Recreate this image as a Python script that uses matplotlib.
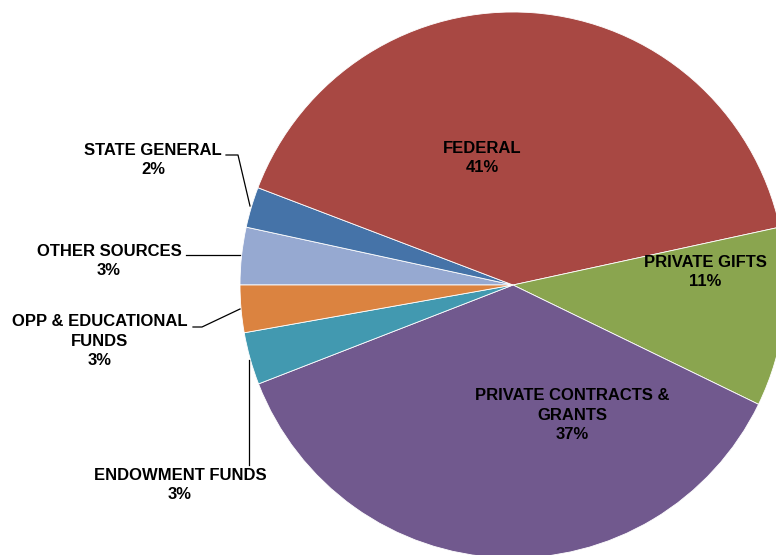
import matplotlib
matplotlib.use('Agg')
import matplotlib.pyplot as plt

plt.rcParams['font.family'] = ['Liberation Sans', 'DejaVu Sans']

sources = ['OTHER SOURCES', 'STATE GENERAL', 'FEDERAL', 'PRIVATE GIFTS',
           'PRIVATE CONTRACTS &\nGRANTS', 'ENDOWMENT FUNDS', 'OPP & EDUCATIONAL\nFUNDS']
shares = [3.4, 2.4, 40.8, 10.6, 36.9, 3.1, 2.8]
colors = ['#96A9D1', '#4573A8', '#A84843', '#8AA54F', '#71598E', '#4299B0', '#DB8340']

W, H = 776, 555
fig = plt.figure(figsize=(W / 100, H / 100), dpi=100)
ax = fig.add_axes([0, 0, 1, 1])

cx, cy, r = 513, H - 285, 273
ax.pie(shares, colors=colors, startangle=180, counterclock=False,
       center=(cx, cy), radius=r, frame=True,
       wedgeprops=dict(edgecolor='white', linewidth=0.6))
ax.set_xlim(0, W)
ax.set_ylim(0, H)
ax.set_aspect('equal')
ax.axis('off')

# label centres in pixel coords (from top-left)
label_pos = {
    'OTHER SOURCES': (109, 261),
    'STATE GENERAL': (153, 160),
    'FEDERAL': (482, 158),
    'PRIVATE GIFTS': (705, 272),
    'PRIVATE CONTRACTS &\nGRANTS': (572, 415),
    'ENDOWMENT FUNDS': (180, 485),
    'OPP & EDUCATIONAL\nFUNDS': (100, 341),
}
for name, val in zip(sources, shares):
    x, y = label_pos[name]
    ax.text(x, H - y, f'{name}\n{val:.0f}%', ha='center', va='center',
            fontsize=12, fontweight='bold', linespacing=1.4, color='black')

# leader lines
leaders = [
    [(226, 155), (238, 155), (250, 206)],
    [(186, 255), (240, 255)],
    [(193, 327), (202, 327), (240, 309)],
    [(249, 465), (249, 360)],
]
for pts in leaders:
    xs = [p[0] for p in pts]
    ys = [H - p[1] for p in pts]
    ax.plot(xs, ys, color='black', linewidth=0.9)

fig.savefig('out.png', dpi=100)
